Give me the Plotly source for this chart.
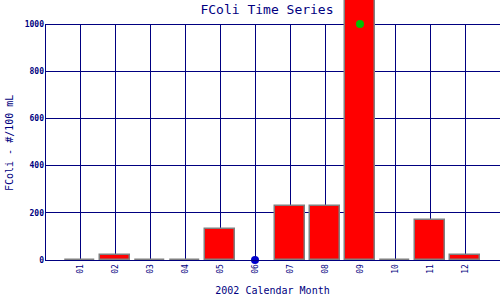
import plotly.graph_objects as go

months = [1, 2, 3, 4, 5, 6, 7, 8, 9, 10, 11, 12]
month_labels = ["01", "02", "03", "04", "05", "06", "07", "08", "09", "10", "11", "12"]
fcoli = [0, 20, 0, 0, 130, None, 228, 228, 1200, 0, 170, 20]
green_x = [9]
green_y = [1000]
blue_x = [6]
blue_y = [0]
y_ticks = [0, 200, 400, 600, 800, 1000]

NAVY = "#000080"
MONO = "DejaVu Sans Mono, Liberation Mono, monospace"

W, H = 500, 300
M_L, M_B = 45, 40
PLOT_TOP = 24  # pixel row of y=1000
plot_h = H - M_B
plot_w = W - M_L
x_range = [0, 13]
y_max = y_ticks[-1] * plot_h / (plot_h - PLOT_TOP)
half_px = 0.5 * (x_range[1] - x_range[0]) / plot_w  # crisp 1px lines

# vertical grid lines (left border + one per month), below the bars
shapes = []
for m in [0] + months:
    shapes.append(dict(type="line", xref="x", yref="y", layer="below",
                       x0=m + half_px, x1=m + half_px,
                       y0=y_ticks[0], y1=y_ticks[-1],
                       line=dict(color=NAVY, width=1)))

fig = go.Figure()
fig.add_trace(go.Bar(
    x=months, y=fcoli, width=0.86,
    marker=dict(color="#ff0000", line=dict(color="#808080", width=1.5)),
    showlegend=False,
))
fig.add_trace(go.Scatter(
    x=green_x, y=green_y, mode="markers",
    marker=dict(color="#00c000", size=8), cliponaxis=False, showlegend=False,
))
fig.add_trace(go.Scatter(
    x=blue_x, y=blue_y, mode="markers",
    marker=dict(color="#0000cc", size=8), cliponaxis=False, showlegend=False,
))

fig.update_layout(
    width=W, height=H,
    margin=dict(l=M_L, r=0, t=0, b=M_B),
    paper_bgcolor="white", plot_bgcolor="white",
    font=dict(family=MONO, color=NAVY),
    title=dict(text="FColi Time Series", x=267/500, xanchor="center",
               y=1 - 9/300, yanchor="middle",
               font=dict(size=13, color=NAVY, family=MONO)),
    bargap=0,
    shapes=shapes,
    annotations=[dict(
        text="FColi - #/100 mL", textangle=-90, showarrow=False,
        xref="paper", yref="paper",
        x=(9 - M_L) / plot_w, y=(plot_h - 143) / plot_h,
        xanchor="center", yanchor="middle",
        font=dict(size=10, color=NAVY, family=MONO),
    )],
    xaxis=dict(
        range=x_range, tickvals=months, ticktext=month_labels,
        tickangle=-90, tickfont=dict(size=8, color=NAVY, family=MONO),
        showgrid=False,
        showline=True, linecolor=NAVY, linewidth=1,
        zeroline=False, ticks="", mirror=False,
        title=dict(text="2002 Calendar Month", standoff=14,
                   font=dict(size=10, color=NAVY, family=MONO)),
        fixedrange=True,
    ),
    yaxis=dict(
        range=[0, y_max], tickvals=y_ticks,
        ticktext=["<b>%d</b>" % v for v in y_ticks],
        tickfont=dict(size=8, color=NAVY, family=MONO),
        showgrid=True, gridcolor=NAVY, gridwidth=1,
        showline=False,
        zeroline=False, ticks="", ticklen=0,
        fixedrange=True,
    ),
)

fig.write_html("out.html")
